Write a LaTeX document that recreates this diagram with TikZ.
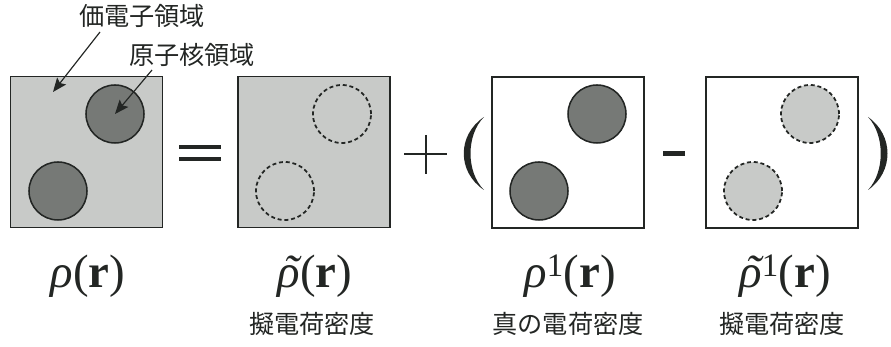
\documentclass[tikz,border=0pt]{standalone}
\usepackage{fontspec}
\setmainfont{Liberation Serif}
\newfontfamily\jpfont{Noto Sans CJK JP}
\usetikzlibrary{arrows.meta}
\definecolor{fillgray}{RGB}{200,202,200}
\definecolor{nucgray}{RGB}{118,121,118}
\definecolor{ink}{RGB}{35,38,36}
\newcommand{\pseudorho}{\rlap{\kern0.13em\char"02DC}ρ}

\begin{document}
\begin{tikzpicture}[x=0.03cm, y=-0.03cm, >={Stealth[length=4.2mm, width=3.4mm, inset=0.8mm]}]
		\tikzset{panel/.style={draw=ink, line width=1.3pt, minimum width=4.56cm, minimum height=4.53cm, inner sep=0pt}}
		\tikzset{nucleus/.style={draw=ink, circle, line width=1.3pt, minimum size=1.74cm, inner sep=0pt, fill=nucgray}}
		\tikzset{ghost/.style={draw=ink, circle, line width=1.5pt, dash pattern=on 3.4pt off 2.4pt, minimum size=1.74cm, inner sep=0pt}}
		\tikzset{jp/.style={font=\jpfont\fontsize{21.5}{24}\selectfont, text=ink, inner sep=0pt}}
		\tikzset{formula/.style={font=\fontsize{40}{44}\selectfont, text=ink, inner sep=0pt}}
		\useasboundingbox (0,0) rectangle (891,347);
		% total density
		\node[panel, fill=fillgray] (p1) at (86.5,152) {};
		\node[nucleus] (c1a) at (115,114) {};
		\node[nucleus] (c1b) at (58,191) {};
		% pseudo density
		\node[panel, fill=fillgray] (p2) at (314,152) {};
		\node[ghost] (c2a) at (342,114) {};
		\node[ghost] (c2b) at (285,191) {};
		% true one-centre density
		\node[panel] (p3) at (568,152.5) {};
		\node[nucleus] (c3a) at (597,114) {};
		\node[nucleus] (c3b) at (539,191) {};
		% pseudo one-centre density
		\node[panel] (p4) at (782,152.5) {};
		\node[ghost, fill=fillgray] (c4a) at (810,114) {};
		\node[ghost, fill=fillgray] (c4b) at (753,191) {};
		% operators
		\draw[ink, line width=2.6pt] (179,147) -- (221,147);
		\draw[ink, line width=2.6pt] (179,159) -- (221,159);
		\draw[ink, line width=2.2pt] (404,154) -- (447,154);
		\draw[ink, line width=2.2pt] (426,135) -- (426,174);
		\fill[ink] (663,151.5) rectangle (685,156.5);
		\fill[ink] (484,117) .. controls (457,135) and (457,172) .. (484,190) .. controls (466,172) and (466,135) .. (484,117) -- cycle;
		\fill[ink] (868,117) .. controls (894,135) and (894,172) .. (868,190) .. controls (885,172) and (885,135) .. (868,117) -- cycle;
		% region labels
		\node[jp] (val) at (142,16) {価電子領域};
		\node[jp] (nuc) at (192,55) {原子核領域};
		\coordinate (valtail) at (100,32);
		\coordinate (valtip) at (53,92);
		\coordinate (nuctail) at (152,70);
		\draw[->, ink, line width=1pt] (valtail) -- (valtip);
		\draw[->, ink, line width=1pt] (nuctail) -- (c1a.center);
		% formulas
		\node[formula] (f1) at (88,276) {{\itshape ρ}(\textbf{r})};
		\node[formula] (f2) at (315,276) {{\itshape\pseudorho}(\textbf{r})};
		\node[formula] (f3) at (570,276) {{\itshape ρ}\textsuperscript{1}(\textbf{r})};
		\node[formula] (f4) at (785,276) {{\itshape\pseudorho}\textsuperscript{1}(\textbf{r})};
		\node[jp] (t2) at (312,324) {擬電荷密度};
		\node[jp] (t3) at (568,324) {真の電荷密度};
		\node[jp] (t4) at (782,324) {擬電荷密度};
	\end{tikzpicture}
\end{document}
